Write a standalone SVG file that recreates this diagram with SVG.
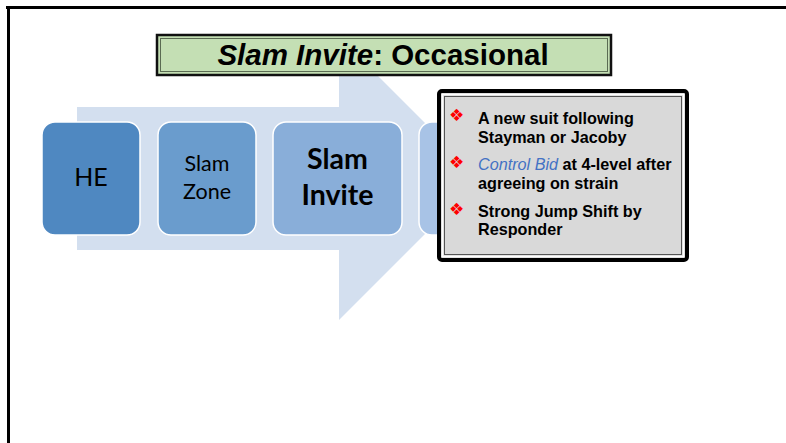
<svg xmlns="http://www.w3.org/2000/svg" width="786" height="443" viewBox="0 0 786 443">
<style>
.box{stroke:#ffffff;stroke-width:1.5}
.bt{font-family:Lato,"Liberation Sans",sans-serif;fill:#000;text-anchor:middle}
.li{font-family:"Liberation Sans",Arial,sans-serif;font-weight:bold;font-size:16.2px;fill:#000}
.bul{font-family:"DejaVu Sans",sans-serif;font-size:17px;fill:#ff0000}
</style>
<rect width="786" height="443" fill="#ffffff"/>
<g id="frame">
<path d="M6 7.5H786M8.5 6V443" stroke="#000" stroke-width="3" fill="none"/>
</g>
<g id="arrow">
<polygon points="77,107 339,107 339,37 480.5,178.5 339,320 339,250 77,250" fill="#d3dfef"/>
</g>
<g id="connectors"></g>
<g id="node-he">
<rect class="box" x="42" y="122" width="98" height="113" rx="13" fill="#4f88c1"/>
<text class="bt" x="91" y="186" font-size="25">HE</text>
</g>
<g id="node-slamzone">
<rect class="box" x="158" y="122" width="98" height="113" rx="13" fill="#6a9ccd"/>
<text class="bt" x="207" y="171" font-size="21.5">Slam</text>
<text class="bt" x="207" y="199" font-size="21.5">Zone</text>
</g>
<g id="node-slaminvite">
<rect class="box" x="273" y="122" width="129" height="113" rx="13" fill="#89aed9"/>
<text class="bt" x="337.5" y="169" font-size="28.5" font-weight="bold">Slam</text>
<text class="bt" x="337.5" y="205" font-size="28.5" font-weight="bold">Invite</text>
</g>
<g id="node-fourth">
<rect class="box" x="419" y="122" width="98" height="113" rx="13" fill="#a8c3e6"/>
</g>
<g id="title">
<rect x="157" y="35" width="454" height="40" fill="#c4dfb4" stroke="#111" stroke-width="2.5"/>
<rect x="160.5" y="38.5" width="447" height="33" fill="none" stroke="#5a6b52" stroke-width="1"/>
<text x="383" y="65" text-anchor="middle" font-family="'Liberation Sans',Arial,sans-serif" font-weight="bold" font-size="29.5" fill="#000"><tspan font-style="italic">Slam Invite</tspan>: Occasional</text>
</g>
<g id="textbox">
<rect x="439" y="91" width="248" height="169" rx="3" fill="#d9d9d9" stroke="#000" stroke-width="4"/>
<rect x="442.5" y="94.5" width="241" height="162" fill="none" stroke="#ffffff" stroke-width="1.5"/>
<rect x="444.5" y="96.5" width="237" height="158" fill="none" stroke="#555" stroke-width="1"/>
<text class="bul" x="449" y="121">❖</text>
<text class="bul" x="449" y="168">❖</text>
<text class="bul" x="449" y="215">❖</text>
<text class="li" x="478" y="124">A new suit following</text>
<text class="li" x="478" y="143">Stayman or Jacoby</text>
<text class="li" x="478" y="170"><tspan font-style="italic" font-weight="normal" fill="#4472c4">Control Bid</tspan> at 4-level after</text>
<text class="li" x="478" y="189">agreeing on strain</text>
<text class="li" x="478" y="217">Strong Jump Shift by</text>
<text class="li" x="478" y="235">Responder</text>
</g>
</svg>
